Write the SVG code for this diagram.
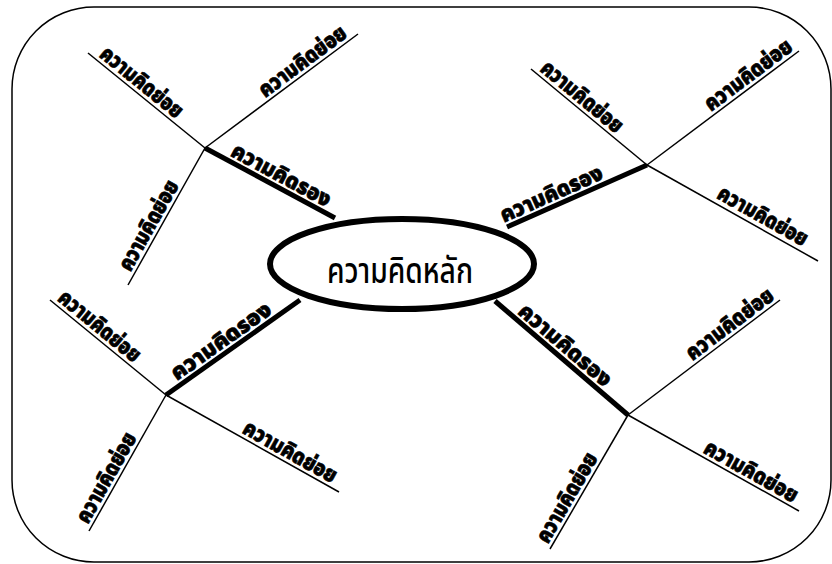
<svg xmlns="http://www.w3.org/2000/svg" width="832" height="564" viewBox="0 0 832 564">
<style>
.thin{stroke:#000;stroke-width:1.5;fill:none}
.thick{stroke:#000;stroke-width:5;fill:none}
.lbl{font-family:"Noto Sans Thai","Noto Sans","DejaVu Sans",sans-serif;font-weight:900;font-size:22px;fill:#000;stroke:#000;stroke-width:0.6;text-anchor:middle}
.main{font-family:"Noto Sans Thai","Noto Sans","DejaVu Sans",sans-serif;font-weight:500;font-size:36px;fill:#000;text-anchor:middle}
</style>
<rect x="12" y="7" width="819" height="555" rx="82" ry="82" fill="#fff" stroke="#000" stroke-width="1.5"/>
<g id="connectors">
<line class="thick" x1="205" y1="148" x2="335" y2="218"/>
<line class="thick" x1="507" y1="227" x2="647" y2="165"/>
<line class="thick" x1="166" y1="395" x2="300" y2="300"/>
<line class="thick" x1="495" y1="301" x2="628" y2="415"/>
<line class="thin" x1="88" y1="53" x2="205" y2="148"/>
<line class="thin" x1="205" y1="148" x2="358" y2="34"/>
<line class="thin" x1="128" y1="285" x2="205" y2="148"/>
<line class="thin" x1="531" y1="69" x2="647" y2="165"/>
<line class="thin" x1="647" y1="165" x2="799" y2="51"/>
<line class="thin" x1="647" y1="165" x2="818" y2="261"/>
<line class="thin" x1="50" y1="300" x2="166" y2="395"/>
<line class="thin" x1="166" y1="395" x2="339" y2="492"/>
<line class="thin" x1="89" y1="531" x2="166" y2="395"/>
<line class="thin" x1="628" y1="415" x2="780" y2="300"/>
<line class="thin" x1="628" y1="415" x2="799" y2="511"/>
<line class="thin" x1="550" y1="549" x2="628" y2="415"/>
</g>
<g id="main">
<ellipse cx="402" cy="264" rx="132" ry="45" fill="#fff" stroke="#000" stroke-width="6"/>
<text class="main" x="400" y="283" textLength="146" lengthAdjust="spacingAndGlyphs">ความคิดหลัก</text>
</g>
<g id="sub1">
<text class="lbl" transform="translate(205,148) rotate(28.3)" x="80" y="-5" textLength="110" lengthAdjust="spacingAndGlyphs">ความคิดรอง</text>
</g>
<g id="sub2">
<text class="lbl" transform="translate(507,227) rotate(-23.9)" x="54" y="-5" textLength="110" lengthAdjust="spacingAndGlyphs">ความคิดรอง</text>
</g>
<g id="sub3">
<text class="lbl" transform="translate(166,395) rotate(-35.3)" x="76" y="-5" textLength="118" lengthAdjust="spacingAndGlyphs">ความคิดรอง</text>
</g>
<g id="sub4">
<text class="lbl" transform="translate(495,301) rotate(40.6)" x="82" y="-5" textLength="115" lengthAdjust="spacingAndGlyphs">ความคิดรอง</text>
</g>
<g id="leaf1a"><text class="lbl" transform="translate(88,53) rotate(39.1)" x="60" y="-4" textLength="100" lengthAdjust="spacingAndGlyphs">ความคิดย่อย</text></g>
<g id="leaf1b"><text class="lbl" transform="translate(205,148) rotate(-36.7)" x="130" y="-4" textLength="104" lengthAdjust="spacingAndGlyphs">ความคิดย่อย</text></g>
<g id="leaf1c"><text class="lbl" transform="translate(128,285) rotate(-60.7)" x="62" y="-4" textLength="100" lengthAdjust="spacingAndGlyphs">ความคิดย่อย</text></g>
<g id="leaf2a"><text class="lbl" transform="translate(531,69) rotate(39.6)" x="57" y="-4" textLength="100" lengthAdjust="spacingAndGlyphs">ความคิดย่อย</text></g>
<g id="leaf2b"><text class="lbl" transform="translate(647,165) rotate(-36.9)" x="135" y="-4" textLength="104" lengthAdjust="spacingAndGlyphs">ความคิดย่อย</text></g>
<g id="leaf2c"><text class="lbl" transform="translate(647,165) rotate(29.3)" x="126" y="-5" textLength="100" lengthAdjust="spacingAndGlyphs">ความคิดย่อย</text></g>
<g id="leaf3a"><text class="lbl" transform="translate(50,300) rotate(39.3)" x="55" y="-4" textLength="100" lengthAdjust="spacingAndGlyphs">ความคิดย่อย</text></g>
<g id="leaf3b"><text class="lbl" transform="translate(166,395) rotate(29.3)" x="136" y="-4" textLength="104" lengthAdjust="spacingAndGlyphs">ความคิดย่อย</text></g>
<g id="leaf3c"><text class="lbl" transform="translate(89,531) rotate(-60.5)" x="55" y="-4" textLength="100" lengthAdjust="spacingAndGlyphs">ความคิดย่อย</text></g>
<g id="leaf4a"><text class="lbl" transform="translate(628,415) rotate(-37.1)" x="136" y="-4" textLength="104" lengthAdjust="spacingAndGlyphs">ความคิดย่อย</text></g>
<g id="leaf4b"><text class="lbl" transform="translate(628,415) rotate(29.3)" x="135" y="-4" textLength="104" lengthAdjust="spacingAndGlyphs">ความคิดย่อย</text></g>
<g id="leaf4c"><text class="lbl" transform="translate(550,549) rotate(-59.8)" x="53" y="-4" textLength="100" lengthAdjust="spacingAndGlyphs">ความคิดย่อย</text></g>
</svg>
